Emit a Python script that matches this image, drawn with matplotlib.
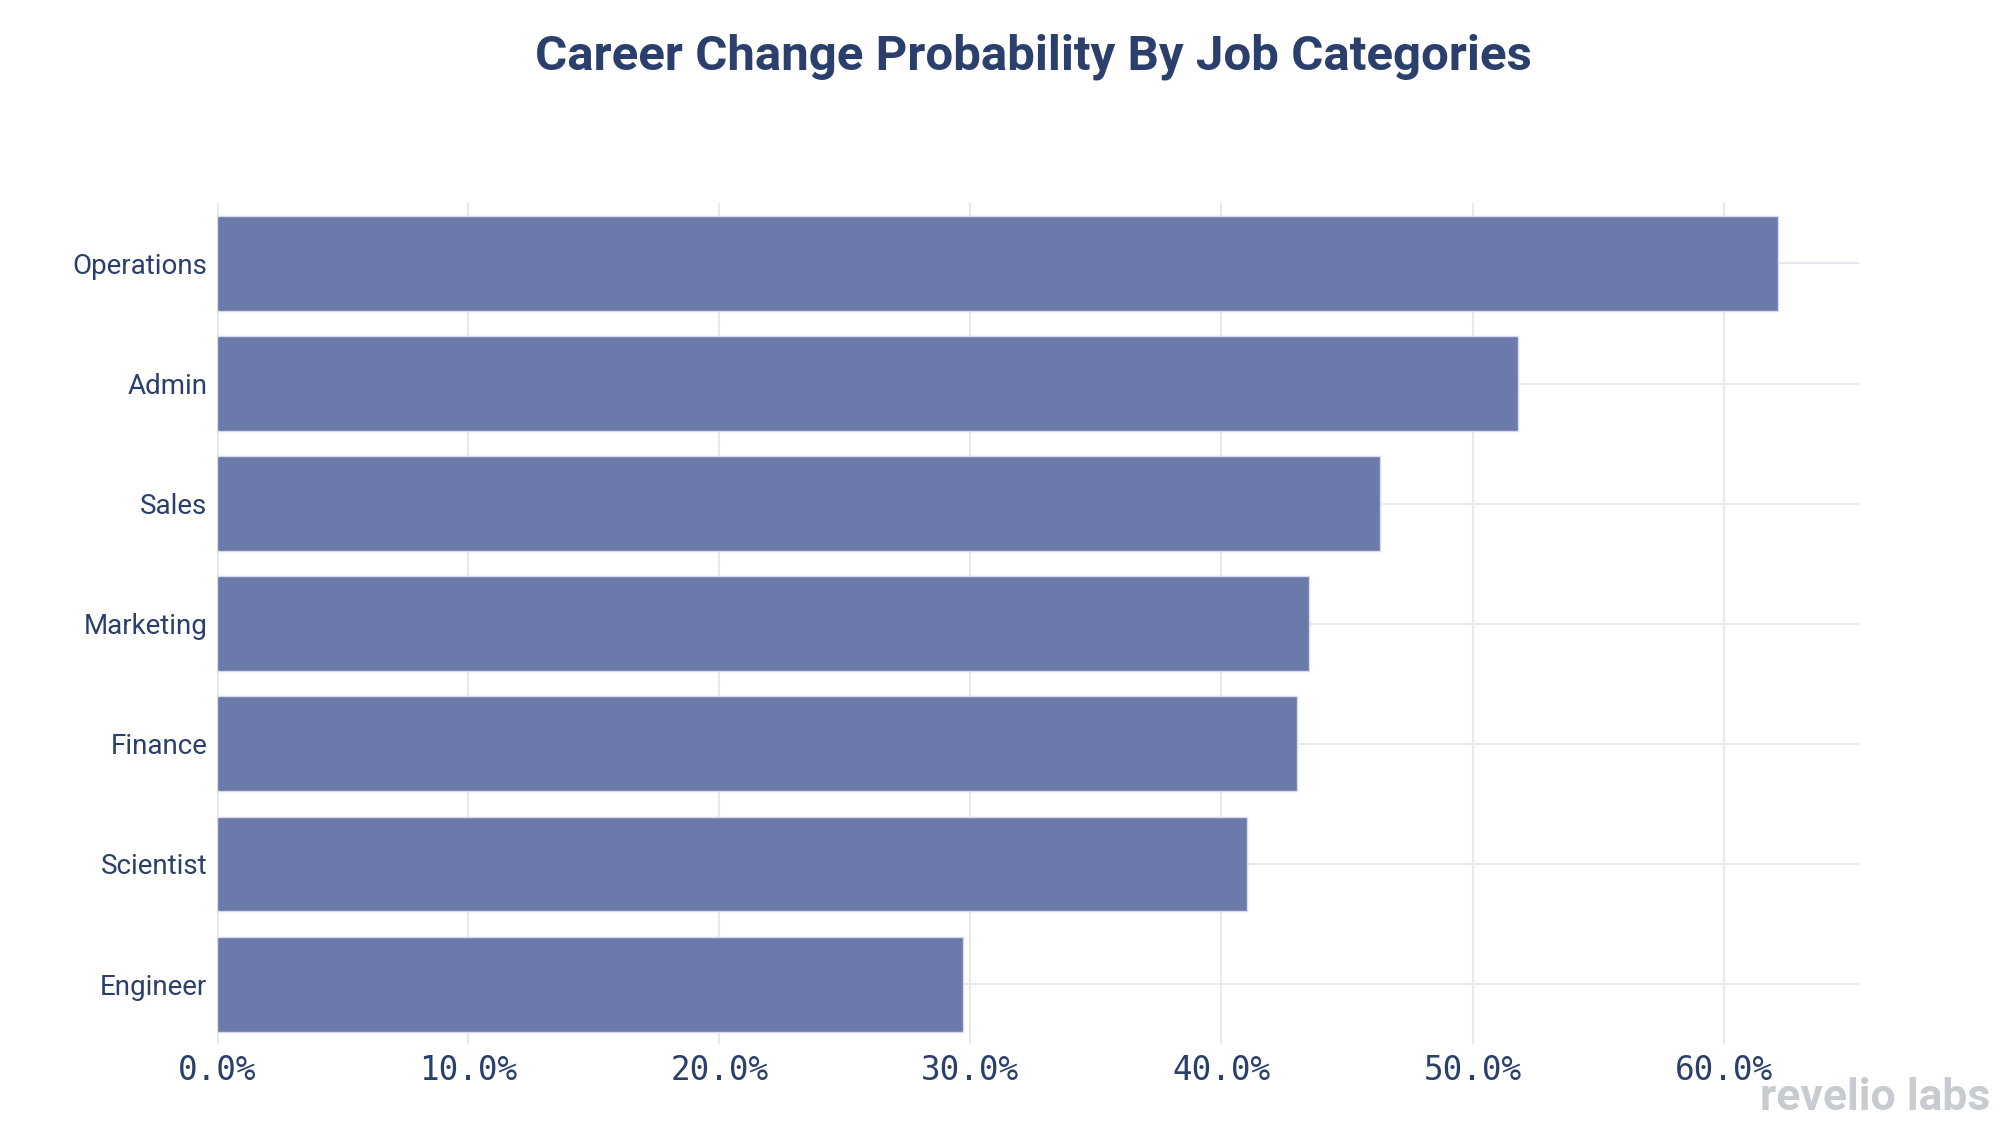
import matplotlib.pyplot as plt
from matplotlib.ticker import FuncFormatter

categories = ["Operations", "Admin", "Sales", "Marketing", "Finance", "Scientist", "Engineer"]
probability = [62.15, 51.8, 46.3, 43.5, 43.0, 41.0, 29.7]
x_ticks = [0, 10, 20, 30, 40, 50, 60]

navy = "#2a3f6b"
bar_color = "#6c79ab"
grid_color = "#e8e8ee"

fig = plt.figure(figsize=(20.1, 11.3), dpi=100)
ax = fig.add_axes([0.108, 0.076, 0.817, 0.744])

ypos = list(range(len(categories)))
ax.barh(ypos, probability, height=0.79, color=bar_color,
        edgecolor="#d6dbef", linewidth=1.0, zorder=3)

ax.set_ylim(len(categories) - 0.5, -0.5)
ax.set_xlim(0, 65.4)
ax.set_yticks(ypos)
ax.set_yticklabels(categories, family="Roboto", fontsize=20, color=navy)
ax.set_xticks(x_ticks)
ax.xaxis.set_major_formatter(FuncFormatter(lambda v, p: f"{v:.1f}%"))
for lab in ax.get_xticklabels():
    lab.set_family("DejaVu Sans Mono")
    lab.set_fontsize(23.5)
    lab.set_color(navy)

ax.tick_params(axis="both", length=0)
ax.tick_params(axis="x", pad=7)
ax.tick_params(axis="y", pad=7)
ax.grid(True, color=grid_color, linewidth=1.5, zorder=0)
ax.set_axisbelow(True)
for s in ax.spines.values():
    s.set_visible(False)
ax.axvline(0, color=grid_color, linewidth=2, zorder=1)

fig.text(0.514, 0.950, "Career Change Probability By Job Categories",
         family="Roboto", fontweight="bold", fontsize=35.5, color=navy,
         ha="center", va="center")
fig.text(0.99, 0.028, "revelio labs", family="Roboto", fontweight="bold",
         fontsize=32, color="#c8cbcf", ha="right", va="center")

fig.savefig("out.png", dpi=100, facecolor="white")
